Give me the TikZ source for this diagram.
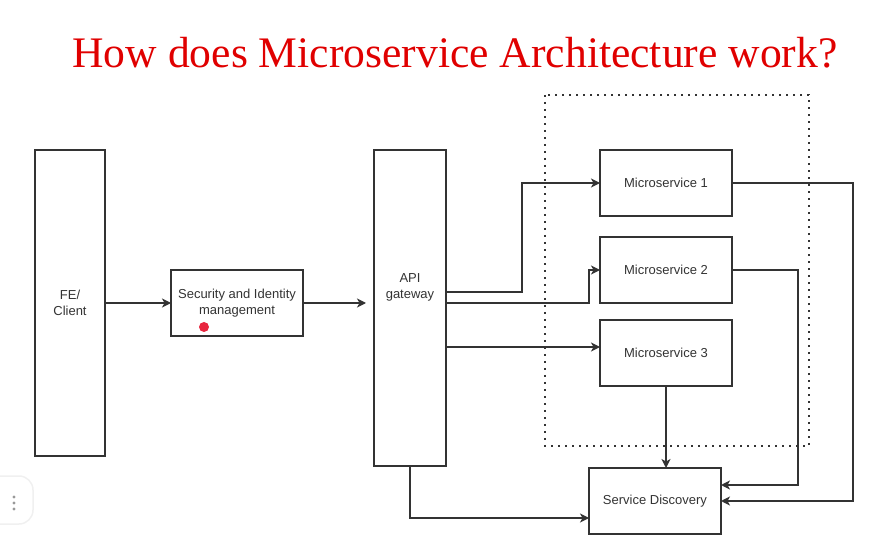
\documentclass[tikz,border=0pt]{standalone}
\usepackage{fontspec}
\setmainfont{Liberation Sans}
\newfontfamily\titlefont{Liberation Serif}
\usepackage{tikz}
\usetikzlibrary{arrows.meta}
\definecolor{boxline}{HTML}{333333}
\definecolor{titlered}{HTML}{E00000}
\definecolor{dotred}{HTML}{E8263F}
\tikzset{>={Stealth[width=9pt,length=9pt,inset=2.5pt]}}
\tikzset{
  svcbox/.style={draw=boxline, line width=1.4pt, text=boxline, font=\fontsize{13}{16}\selectfont,
    align=center, inner sep=0pt, outer sep=0pt},
  link/.style={->, draw=boxline, line width=1.4pt},
  groupbox/.style={draw=boxline, line width=1.8pt, dash pattern=on 1.7pt off 5.3pt}
}

\begin{document}
\begin{tikzpicture}[x=1pt,y=-1pt]

  \newcommand\BoxW{132pt};
  \newcommand\BoxH{66pt};

  \useasboundingbox (0,0) rectangle (895,537);

  \node[anchor=base, text=titlered, font=\titlefont\fontsize{43.6}{50}\selectfont] (title)
    at (455,68) {How does Microservice Architecture work?};

  \draw[groupbox] (545,95) rectangle (809,446);

  \node[svcbox, minimum width=70pt, minimum height=306pt] (client) at (70,303) {FE/\\Client};
  \node[svcbox, minimum width=\BoxW, minimum height=\BoxH] (secid) at (237,303)
    {Security and Identity\\management};
  \node[svcbox, minimum width=72pt, minimum height=316pt,
    label={[svcbox, draw=none, yshift=21pt]center:API\\gateway}] (api) at (410,308) {};

  \node[svcbox, minimum width=\BoxW, minimum height=\BoxH] (ms1) at (666,183) {Microservice 1};
  \node[svcbox, minimum width=\BoxW, minimum height=\BoxH] (ms2) at (666,270) {Microservice 2};
  \node[svcbox, minimum width=\BoxW, minimum height=\BoxH] (ms3) at (666,353) {Microservice 3};
  \node[svcbox, minimum width=\BoxW, minimum height=\BoxH] (sd) at (655,501) {Service Discovery};

  \fill[dotred] (204,327) circle(5pt);

  \draw[link] (client) -- (secid);
  \draw[link, shorten >=8pt] (secid.east) -- (secid.east -| api.west);

  \draw[link] ([yshift=16pt]api.east) -| ([xshift=-78pt]ms1.west) -- (ms1.west);
  \draw[link] ([yshift=5pt]api.east) -| ([xshift=-11pt]ms2.west) -- (ms2.west);
  \draw[link] ([yshift=-39pt]api.east) -- ([yshift=6pt]ms3.west);

  \draw[link] (ms1.east) -| ([xshift=132pt]sd.east) -- (sd.east);
  \draw[link] (ms2.east) -| ([xshift=77pt,yshift=16pt]sd.east) -- ([yshift=16pt]sd.east);
  \draw[link] (ms3.south) -- (ms3.south |- sd.north);
  \draw[link] (api.south) |- ([yshift=-17pt]sd.west);

  % menu button at the left edge
  \draw[gray!12, line width=1.5pt, rounded corners=14pt] (-20,476) rectangle (33,524);
  \foreach \dy in {497,503,509}
    \fill[gray!80] (14,\dy) circle(1.6pt);

\end{tikzpicture}
\end{document}
